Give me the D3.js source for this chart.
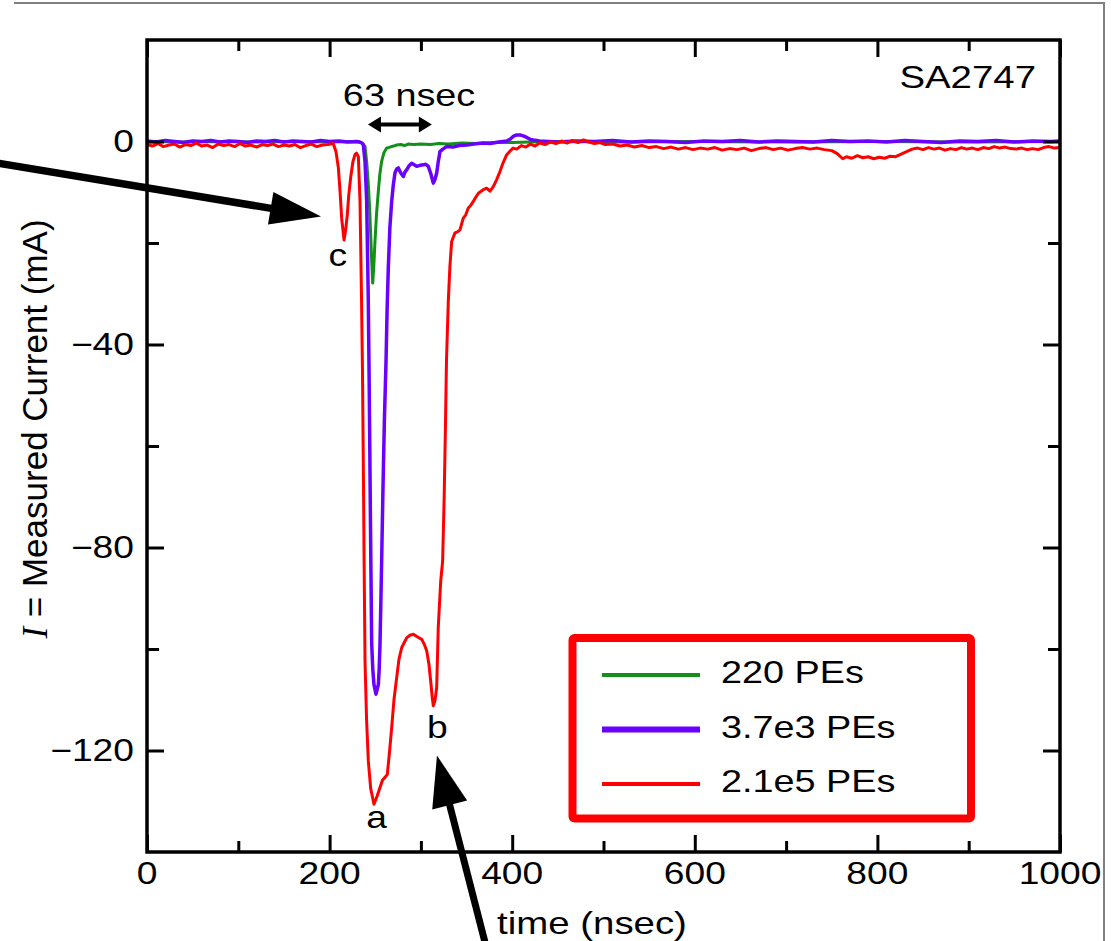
<!DOCTYPE html>
<html>
<head>
<meta charset="utf-8">
<script src="https://cdn.jsdelivr.net/npm/d3@7"></script>
<style>
  html, body { margin: 0; padding: 0; background: #fff; }
  svg { display: block; }
  text { font-family: "Liberation Sans", Arial, Helvetica, sans-serif; fill: #000; }
</style>
</head>
<body>
<svg id="chart" width="1111" height="941"></svg>
<script>
// ---- axis ticks ----
const xMajorTicks = [0, 200, 400, 600, 800, 1000];
const xMinorTicks = [100, 300, 500, 700, 900];
const yMajorTicks = [0, -40, -80, -120];
const yMinorTicks = [-20, -60, -100];

// ---- legend ----
const seriesNames = ["220 PEs", "3.7e3 PEs", "2.1e5 PEs"];
const seriesColors = ["#12901a", "#6a00ff", "#ff0000"];

// ---- traces: [time (nsec), current (mA)] ----
const trace220 = [
  [0, 0.0], [40, -0.1], [80, 0.0], [120, -0.1], [160, 0.0], [200, -0.1], [230, 0.0],
  [234, -0.2], [236.5, -0.5], [238.8, -1.0], [240.6, -4.0], [242.4, -8.5], [243.8, -13.0],
  [245, -18.4], [246.2, -24.0], [247.2, -27.9], [248.3, -25.0], [249.7, -19.7], [251.5, -14.0],
  [253.4, -9.8], [255, -6.5], [257, -3.9], [259.5, -2.2], [262.5, -1.3], [266, -1.1],
  [270, -0.9], [273.5, -0.7], [278, -0.6], [282, -0.8], [286, -0.5], [292, -0.6],
  [300, -0.5], [310, -0.6], [320, -0.4], [330, -0.5], [345, -0.3], [360, -0.4],
  [380, -0.2], [400, -0.2], [420, -0.1], [460, 0.0], [520, -0.1], [600, 0.0],
  [700, -0.1], [800, 0.0], [900, -0.1], [1000, 0.0]
];

const trace3700 = [
  [0, 0.1], [10, -0.1], [20, 0.2], [30, 0.0], [40, -0.2], [50, 0.1], [60, 0.0], [70, 0.2],
  [80, -0.1], [90, 0.1], [100, 0.0], [110, -0.2], [120, 0.1], [130, 0.0], [140, 0.2],
  [150, -0.1], [160, 0.1], [170, 0.0], [180, -0.1], [190, 0.2], [200, 0.0], [210, 0.1],
  [220, -0.1], [230, 0.0], [233, -0.1], [235.5, -0.3], [237, -0.7], [238.8, -4.0],
  [240.6, -11.8], [242.4, -31.5], [243.5, -50], [244.5, -70], [245.3, -85], [246.1, -99],
  [247.3, -104], [248.6, -107], [250.8, -108.9], [253.4, -107], [254.3, -104], [255.2, -99],
  [256, -92], [257, -82.7], [258.5, -68], [260, -55], [261.8, -43.3], [263, -33],
  [264.3, -24.9], [266, -17], [268, -11.8], [269.8, -8.5], [271.6, -6.2], [273.5, -5.4],
  [275.3, -5.2], [278, -6.2], [280.8, -6.9], [282.6, -6.0], [284.4, -5.6], [287, -4.8],
  [289.9, -4.3], [292.6, -4.6], [295.4, -4.9], [299, -4.7], [302.6, -4.6], [305.4, -4.5],
  [308.1, -4.9], [310.8, -6.3], [313.6, -8.2], [315.4, -7.5], [317.3, -6.2], [319, -4.0],
  [320.9, -2.0], [324, -1.5], [328.3, -1.0], [335, -1.1], [342, -0.8], [350.2, -0.7],
  [358, -0.5], [368.4, -0.3], [376, -0.4], [385, -0.1], [394, 0.1], [398, 0.5], [401, 1.0],
  [405, 1.3], [408.5, 1.3], [412, 1.1], [416, 0.8], [420, 0.4], [423, 0.3], [430, 0.1],
  [450, -0.1], [470, 0.1], [490, 0.0], [510, 0.2], [530, -0.1], [550, 0.1], [570, 0.0],
  [590, -0.2], [610, 0.1], [630, 0.0], [650, 0.2], [670, -0.1], [690, 0.1], [710, 0.0],
  [730, -0.1], [750, 0.2], [770, 0.0], [790, 0.1], [810, -0.1], [830, 0.2], [850, 0.0],
  [870, -0.2], [890, 0.1], [910, 0.0], [930, 0.2], [950, -0.1], [970, 0.1], [990, 0.0],
  [1000, 0.1]
];

const trace210000 = [
  [0, -0.6], [6, -0.9], [12, -0.4], [18, -1.0], [24, -0.7], [30, -0.5], [36, -1.1], [42, -0.6],
  [48, -0.8], [54, -0.3], [60, -0.9], [66, -0.7], [72, -1.2], [78, -0.5], [84, -0.8],
  [90, -0.6], [96, -1.0], [102, -0.4], [108, -0.9], [114, -0.7], [120, -1.1], [126, -0.6],
  [132, -0.8], [138, -0.5], [144, -1.0], [150, -0.7], [156, -0.9], [162, -0.6], [168, -1.2],
  [174, -0.8], [180, -0.5], [186, -1.0], [192, -0.7], [198, -0.6], [204, -0.4],
  [207, -2.0], [209.6, -5.2], [211.5, -10], [213.2, -15.1], [215.8, -19.4], [217.5, -17.5],
  [219.4, -14.4], [221, -10.5], [223, -7.2], [225.5, -4.0], [227.8, -2.6], [229.5, -2.3],
  [231.5, -3.0], [233.3, -11.8], [235, -31.5], [236, -45], [237, -65], [237.8, -82.7],
  [238.8, -102.4], [240.5, -114], [242.4, -122], [245, -127.5], [248.6, -130.6], [252, -129],
  [255.2, -127.3], [258, -125.8], [260.7, -125.3], [263.2, -124.7], [265.5, -120.5],
  [268, -115.5], [270.5, -110], [273.5, -105.6], [276, -102], [279, -99.7], [284.4, -97.8],
  [288, -97.3], [291.7, -97.1], [296, -97.6], [300.9, -98.1], [304, -99.2], [306.4, -100.4],
  [308.8, -103], [310.7, -106.3], [312.4, -109.5], [313.6, -111.2], [315.4, -110.2],
  [317.3, -107.6], [319, -95.8], [321.7, -86.6], [323.8, -82.7], [325.5, -70], [327, -55],
  [328, -43.3], [330, -31.5], [331.8, -24.5], [333.7, -19.7], [337.3, -18], [340, -17.8],
  [342.8, -17.4], [346.4, -15.1], [349, -14.5], [351.9, -13.1], [354.5, -12.6], [357.4, -11.8],
  [360, -11.0], [363, -10.2], [366, -9.8], [368.4, -9.5], [372, -9.2], [375.7, -9.8],
  [379.3, -8.9], [383, -7.5], [386.6, -5.9], [390, -4.2], [394, -2.6], [397.5, -1.9],
  [401, -1.3], [405, -1.5], [410, -0.8], [415, -1.1], [420, -0.5], [425, -0.9], [430, -0.3],
  [436, -0.6], [442, -0.1], [448, -0.4], [454, 0.1], [460, -0.3], [466, 0.2], [472, -0.2],
  [478, 0.3], [484, -0.1], [490, -0.4], [496, -0.2], [502, -0.6], [510, -0.5], [518, -0.9],
  [526, -0.7], [534, -1.1], [542, -0.8], [550, -1.2], [558, -1.0], [566, -1.4], [574, -1.1],
  [582, -1.5], [590, -1.2], [598, -1.6], [606, -1.3], [614, -1.5], [622, -1.2], [630, -1.7],
  [638, -1.4], [646, -1.6], [654, -1.3], [662, -1.8], [670, -1.4], [678, -1.2], [686, -1.6],
  [694, -1.3], [702, -1.7], [710, -1.4], [718, -1.2], [726, -1.5], [734, -1.3], [742, -1.6],
  [750, -1.8], [756, -2.4], [762, -3.4], [766, -3.0], [772, -3.3], [778, -2.8], [784, -3.2],
  [790, -3.0], [796, -3.4], [802, -3.1], [808, -3.3], [814, -2.9], [820, -3.0], [826, -2.5],
  [832, -2.0], [838, -1.5], [844, -1.3], [850, -1.6], [856, -1.2], [862, -1.5], [868, -1.3],
  [874, -1.7], [880, -1.4], [886, -1.6], [892, -1.2], [898, -1.5], [904, -1.3], [910, -1.6],
  [916, -1.2], [922, -1.4], [928, -1.0], [934, -1.3], [940, -1.1], [946, -1.4], [952, -1.5],
  [958, -1.3], [964, -1.6], [970, -1.4], [976, -1.6], [982, -1.2], [988, -1.0], [994, -1.3],
  [1000, -1.2]
];

const traces = [trace220, trace3700, trace210000];
const traceWidths = [3, 3.5, 3];

// ---- drawing ----
const svg = d3.select("#chart");
const SX = 1.2; // horizontal glyph stretch of the lettering

const x = d3.scaleLinear().domain([0, 1000]).range([147, 1060]);
const y = d3.scaleLinear().domain([-140, 20]).range([852, 40]);

function label(g, px, py, str, size, anchor) {
  return g.append("text")
    .attr("transform", `translate(${px},${py}) scale(${SX},1)`)
    .attr("text-anchor", anchor || "start")
    .attr("font-size", size)
    .text(str);
}

// outer figure border (top and right)
svg.append("path")
  .attr("d", "M14,3 H1104 V941")
  .attr("fill", "none").attr("stroke", "#808080").attr("stroke-width", 2);

// traces
const line = d3.line().x(d => x(d[0])).y(d => y(d[1]));
const plot = svg.append("g");
traces.forEach((tr, i) => {
  plot.append("path")
    .datum(tr)
    .attr("d", line)
    .attr("fill", "none")
    .attr("stroke", seriesColors[i])
    .attr("stroke-width", traceWidths[i])
    .attr("stroke-linejoin", "round");
});

// frame
svg.append("rect")
  .attr("x", x(0)).attr("y", y(20))
  .attr("width", x(1000) - x(0)).attr("height", y(-140) - y(20))
  .attr("fill", "none").attr("stroke", "#000").attr("stroke-width", 3.5);

// inward ticks on all four sides
function ticks(axisGen, transform, values, size) {
  const g = svg.append("g").attr("transform", transform)
    .call(axisGen.tickValues(values).tickSize(-size).tickFormat(""));
  g.select(".domain").remove();
  g.selectAll(".tick line").attr("stroke", "#000").attr("stroke-width", 3);
}
ticks(d3.axisBottom(x), `translate(0,${y(-140)})`, xMajorTicks, 17);
ticks(d3.axisBottom(x), `translate(0,${y(-140)})`, xMinorTicks, 11);
ticks(d3.axisTop(x), `translate(0,${y(20)})`, xMajorTicks, 17);
ticks(d3.axisTop(x), `translate(0,${y(20)})`, xMinorTicks, 11);
ticks(d3.axisLeft(y), `translate(${x(0)},0)`, yMajorTicks, 17);
ticks(d3.axisLeft(y), `translate(${x(0)},0)`, yMinorTicks, 12);
ticks(d3.axisRight(y), `translate(${x(1000)},0)`, yMajorTicks, 17);
ticks(d3.axisRight(y), `translate(${x(1000)},0)`, yMinorTicks, 12);

// tick labels
const fmt = v => (v < 0 ? "\u2212" + Math.abs(v) : String(v));
xMajorTicks.forEach(v => label(svg, x(v), 884, fmt(v), 31, "middle"));
yMajorTicks.forEach(v => label(svg, x(0) - 13, y(v) + 10, fmt(v), 31, "end"));

// axis titles
label(svg, 592, 934, "time (nsec)", 32, "middle");
const yt = svg.append("text")
  .attr("transform", "translate(47,429) rotate(-90)")
  .attr("text-anchor", "middle")
  .attr("font-size", 35);
yt.append("tspan").attr("font-family", "'Liberation Serif', 'Times New Roman', serif")
  .attr("font-style", "italic").text("I");
yt.append("tspan").text(" = Measured Current (mA)");

// sample id
label(svg, 1036, 88, "SA2747", 32, "end");

// peak labels
label(svg, x(209), 265.5, "c", 31, "middle");
label(svg, x(251.5), 828, "a", 31, "middle");
label(svg, x(318), 738, "b", 31, "middle");

// 63 nsec separation marker
label(svg, x(287), 105.5, "63 nsec", 31.5, "middle");
(function () {
  const x1 = x(242), x2 = x(312), yy = y(3.35), hl = 13, hw = 8;
  svg.append("line").attr("x1", x1 + hl - 2).attr("x2", x2 - hl + 2)
    .attr("y1", yy).attr("y2", yy).attr("stroke", "#000").attr("stroke-width", 4);
  svg.append("path")
    .attr("d", `M${x1},${yy} L${x1 + hl},${yy - hw} L${x1 + hl},${yy + hw} Z M${x2},${yy} L${x2 - hl},${yy - hw} L${x2 - hl},${yy + hw} Z`)
    .attr("fill", "#000");
})();

// pointer arrows
function arrow(t0, i0, t1, i1, headLen, headW, lw) {
  const ax = x(t0), ay = y(i0), bx = x(t1), by = y(i1);
  const dx = bx - ax, dy = by - ay, L = Math.hypot(dx, dy);
  const ux = dx / L, uy = dy / L, px = -uy, py = ux;
  const cx = bx - ux * headLen, cy = by - uy * headLen;
  svg.append("line").attr("x1", ax).attr("y1", ay).attr("x2", cx + ux * 2).attr("y2", cy + uy * 2)
    .attr("stroke", "#000").attr("stroke-width", lw);
  svg.append("path")
    .attr("d", `M${bx},${by} L${cx + px * headW / 2},${cy + py * headW / 2} L${cx - px * headW / 2},${cy - py * headW / 2} Z`)
    .attr("fill", "#000");
}
arrow(-166, -4.2, 190.6, -14.8, 51, 33, 7.5);
arrow(370.5, -158, 317.6, -121, 51, 36, 7);

// legend
const lg = svg.append("g");
lg.append("rect")
  .attr("x", 572.5).attr("y", 638).attr("width", 398.5).attr("height", 180.5)
  .attr("rx", 2).attr("fill", "#fff").attr("stroke", "#ff0000").attr("stroke-width", 8);
const legendLW = [4, 6, 4];
seriesNames.forEach((name, i) => {
  const ly = 675 + i * 54.5;
  lg.append("line").attr("x1", 602).attr("x2", 700).attr("y1", ly).attr("y2", ly)
    .attr("stroke", seriesColors[i]).attr("stroke-width", legendLW[i]);
  label(lg, 721, ly + 8, name, 31.5, "start");
});
</script>
</body>
</html>
